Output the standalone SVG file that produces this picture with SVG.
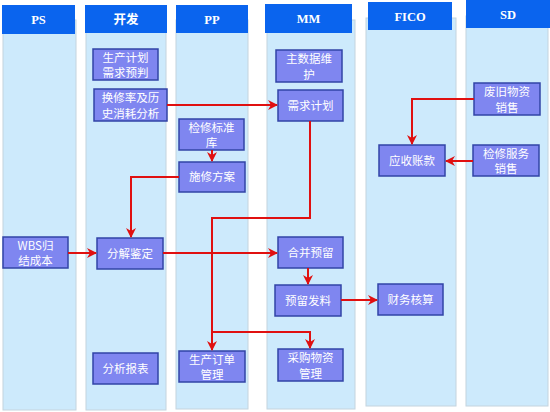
<svg xmlns="http://www.w3.org/2000/svg" width="550" height="412" viewBox="0 0 550 412">
<defs>
<style>
.lane{fill:#cdeafc;stroke:#c4d4de;stroke-width:1}
.hdr{fill:#0a64ee}
.ht{fill:#ffffff;font-family:"Liberation Serif","Noto Sans CJK SC",serif;font-weight:bold;font-size:12.5px;text-anchor:middle}
.node rect{fill:#7f86f0;stroke:#3244a6;stroke-width:1.5}
.node text{fill:#ffffff;font-family:"Noto Sans CJK SC",sans-serif;font-size:11.5px;text-anchor:middle}
.conn path{fill:none;stroke:#e01010;stroke-width:2}
</style>
<marker id="arr" viewBox="0 0 10 10" refX="9" refY="5" markerWidth="5" markerHeight="5" orient="auto" markerUnits="strokeWidth">
<path d="M0,0 L10,5 L0,10 L3,5 Z" fill="#e01010"/>
</marker>
</defs>
<rect width="550" height="412" fill="#ffffff"/>
<g id="lanes">
<rect class="lane" x="3" y="20" width="73" height="390"/>
<rect class="hdr" x="2" y="5" width="73" height="29"/>
<text class="ht" x="38.5" y="24">PS</text>
<rect class="lane" x="86" y="20" width="80" height="390"/>
<rect class="hdr" x="85" y="5" width="82" height="28"/>
<text class="ht" x="126" y="24">开发</text>
<rect class="lane" x="176" y="20" width="72" height="389"/>
<rect class="hdr" x="176" y="5" width="72" height="28"/>
<text class="ht" x="212" y="24">PP</text>
<rect class="lane" x="267" y="20" width="88" height="389"/>
<rect class="hdr" x="265" y="4" width="87" height="29"/>
<text class="ht" x="308.5" y="23">MM</text>
<rect class="lane" x="366" y="18" width="90" height="388"/>
<rect class="hdr" x="368" y="2" width="84" height="28"/>
<text class="ht" x="410" y="21">FICO</text>
<rect class="lane" x="466" y="16" width="82" height="390"/>
<rect class="hdr" x="466" y="0" width="84" height="28"/>
<text class="ht" x="508" y="19">SD</text>
</g>
<g id="n1" class="node"><rect x="93" y="49" width="65" height="31"/><text x="125.5" y="61.5">生产计划</text><text x="125.5" y="77">需求预判</text></g>
<g id="n2" class="node"><rect x="94" y="89" width="73" height="32"/><text x="130.5" y="102">换修率及历</text><text x="130.5" y="117.5">史消耗分析</text></g>
<g id="n3" class="node"><rect x="179" y="119" width="65" height="31"/><text x="211.5" y="131.5">检修标准</text><text x="211.5" y="147">库</text></g>
<g id="n4" class="node"><rect x="179" y="162" width="66" height="30"/><text x="212" y="181">施修方案</text></g>
<g id="n5" class="node"><rect x="3" y="237" width="65" height="31"/><text x="35.5" y="249.5">WBS归</text><text x="35.5" y="265">结成本</text></g>
<g id="n6" class="node"><rect x="97" y="238" width="66" height="31"/><text x="130" y="257.5">分解鉴定</text></g>
<g id="n7" class="node"><rect x="93" y="353" width="65" height="31"/><text x="125.5" y="372.5">分析报表</text></g>
<g id="n8" class="node"><rect x="179" y="351" width="66" height="31"/><text x="212" y="363.5">生产订单</text><text x="212" y="379">管理</text></g>
<g id="n9" class="node"><rect x="276" y="50" width="66" height="32"/><text x="309" y="63">主数据维</text><text x="309" y="78.5">护</text></g>
<g id="n10" class="node"><rect x="278" y="90" width="65" height="31"/><text x="310.5" y="109.5">需求计划</text></g>
<g id="n11" class="node"><rect x="278" y="237" width="65" height="31"/><text x="310.5" y="256.5">合并预留</text></g>
<g id="n12" class="node"><rect x="275" y="285" width="66" height="31"/><text x="308" y="304.5">预留发料</text></g>
<g id="n13" class="node"><rect x="278" y="349" width="65" height="32"/><text x="310.5" y="362">采购物资</text><text x="310.5" y="377.5">管理</text></g>
<g id="n14" class="node"><rect x="379" y="145" width="66" height="31"/><text x="412" y="164.5">应收账款</text></g>
<g id="n15" class="node"><rect x="378" y="284" width="65" height="31"/><text x="410.5" y="303.5">财务核算</text></g>
<g id="n16" class="node"><rect x="474" y="83" width="66" height="32"/><text x="507" y="96">废旧物资</text><text x="507" y="111.5">销售</text></g>
<g id="n17" class="node"><rect x="473" y="145" width="66" height="31"/><text x="506" y="157.5">检修服务</text><text x="506" y="173">销售</text></g>
<g id="connectors" class="conn">
<path d="M167,105 H277" marker-end="url(#arr)"/>
<path d="M212,150 V161" marker-end="url(#arr)"/>
<path d="M179,177 H131 V237" marker-end="url(#arr)"/>
<path d="M68,253 H96" marker-end="url(#arr)"/>
<path d="M163,253 H277" marker-end="url(#arr)"/>
<path d="M310,121 V218 H212 V350" marker-end="url(#arr)"/>
<path d="M212,332 H310 V348" marker-end="url(#arr)"/>
<path d="M308,268 V284" marker-end="url(#arr)"/>
<path d="M341,300 H377" marker-end="url(#arr)"/>
<path d="M474,99 H412 V144" marker-end="url(#arr)"/>
<path d="M473,161 H446" marker-end="url(#arr)"/>
</g>
</svg>
